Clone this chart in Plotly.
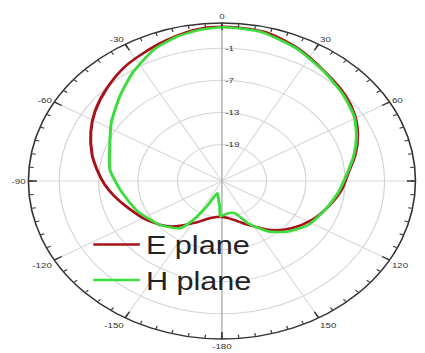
import plotly.graph_objects as go

# Measured radiation patterns: angle in degrees (clockwise from boresight), gain in dB
e_theta = [0, 13, 25, 37.6, 49.4, 58.7, 67.5, 76.5, 85.6, 95.3, 106.5, 118, 129.7,
           140.4, 153.9, 172, 180, 194.7, 209, 223, 237.6, 251.7, 260, 268, 276,
           284, 294.7, 303.8, 314.6, 326.2, 339.8, 351.2, 360]
e_gain = [3.0, 2.8, 1.55, -0.07, -1.1, -2.1, -3.4, -4.9, -6.5, -7.5, -8.9, -10.3, -12.0,
          -13.9, -16.7, -18.8, -19.1, -18.6, -16.8, -14.2, -12.2, -10.5, -9.2, -7.9, -6.7,
          -5.4, -3.8, -2.5, -1.15, 0.26, 1.57, 2.7, 3.0]

h_theta = [0, 7, 13, 25, 38, 49, 59, 67.5, 76.5, 86, 97, 109, 122, 133, 143, 153, 162,
           172, 182, 184, 190, 197, 206, 211, 216, 229, 247, 264, 277, 290, 303, 316,
           326.5, 337, 345.6, 353, 360]
h_gain = [2.9, 2.8, 2.6, 1.4, -0.2, -1.3, -2.3, -3.6, -5.1, -6.7, -7.95, -9.2, -10.3,
          -12.0, -14.0, -16.9, -19.5, -19.7, -19.2, -21.0, -22.6, -23.4, -20.5, -17.3,
          -14.9, -13.3, -11.7, -10.2, -8.6, -7.6, -5.7, -3.5, -1.34, 0.8, 2.0, 2.6, 2.9]

# Axis settings
r_min, r_max = -25.8, 3.7
r_ticks = [-19, -13, -7, -1]
angle_labels = {0: "0", 30: "30", 60: "60", 120: "120", 150: "150",
                180: "-180", 210: "-150", 240: "-120", 270: "-90", 300: "-60", 330: "-30"}
minor_step = 5

W, H = 347, 353
stretch = 425 / W

fig = go.Figure()

# Radial spokes every 30 degrees
spoke_r, spoke_t = [], []
for a in range(0, 360, 30):
    if a in (0, 180):
        continue
    spoke_r += [r_min, r_max, None]
    spoke_t += [a, a, None]
fig.add_trace(go.Scatterpolar(r=spoke_r, theta=spoke_t, mode="lines",
                              line=dict(color="#dadada", width=1),
                              showlegend=False, hoverinfo="skip"))
# Vertical reference line (0 / 180)
fig.add_trace(go.Scatterpolar(r=[r_max, r_min, r_max], theta=[0, 0, 180], mode="lines",
                              line=dict(color="#a0a0a0", width=1),
                              showlegend=False, hoverinfo="skip"))
# Longer major ticks at 30-degree marks
tick_r, tick_t = [], []
for a in range(0, 360, 30):
    tick_r += [r_max - 1.3, r_max, None]
    tick_t += [a, a, None]
fig.add_trace(go.Scatterpolar(r=tick_r, theta=tick_t, mode="lines",
                              line=dict(color="#333333", width=1.3),
                              showlegend=False, hoverinfo="skip"))

fig.add_trace(go.Scatterpolar(r=e_gain, theta=e_theta, mode="lines", name="E plane",
                              line=dict(color="#a8101a", width=2.5, shape="spline",
                                        smoothing=0.8)))
fig.add_trace(go.Scatterpolar(r=h_gain, theta=h_theta, mode="lines", name="H plane",
                              line=dict(color="#3ddc3d", width=2.5, shape="spline",
                                        smoothing=0.6)))

tickvals = list(range(0, 360, minor_step))
ticktext = [angle_labels.get(v, "") for v in tickvals]

fig.update_layout(
    width=W, height=H,
    margin=dict(l=0, r=0, t=0, b=0),
    paper_bgcolor="white",
    font=dict(family="Arial, Liberation Sans, sans-serif", color="#333333"),
    polar=dict(
        domain=dict(x=[23.2 / W, 339.2 / W], y=[14 / H, 330 / H]),
        bgcolor="white",
        angularaxis=dict(
            rotation=90, direction="clockwise",
            tickmode="array", tickvals=tickvals, ticktext=ticktext,
            showgrid=False, showline=True, linecolor="#333333", linewidth=1.3,
            ticks="inside", ticklen=3, tickcolor="#333333", tickwidth=1,
            tickfont=dict(size=8, color="#333333"),
        ),
        radialaxis=dict(
            range=[r_min, r_max], angle=90, tickangle=90,
            tickmode="array", tickvals=r_ticks,
            ticktext=["\u00a0" + str(v) for v in r_ticks],
            showline=False, showgrid=True, gridcolor="#d4d4d4", gridwidth=1,
            ticks="", tickfont=dict(size=8, color="#333333"),
        ),
    ),
    legend=dict(
        x=0.205, y=0.372, xanchor="left", yanchor="top",
        bgcolor="rgba(0,0,0,0)", font=dict(size=25, color="#222222"),
        itemwidth=38, tracegroupgap=0,
    ),
)

post = (
    "document.body.style.margin='0';"
    "var d=document.getElementById('{plot_id}');"
    "d.style.transformOrigin='0 0';"
    "d.style.transform='scaleX(" + f"{stretch:.4f}" + ")';"
)
fig.write_html("out.html", post_script=post)
